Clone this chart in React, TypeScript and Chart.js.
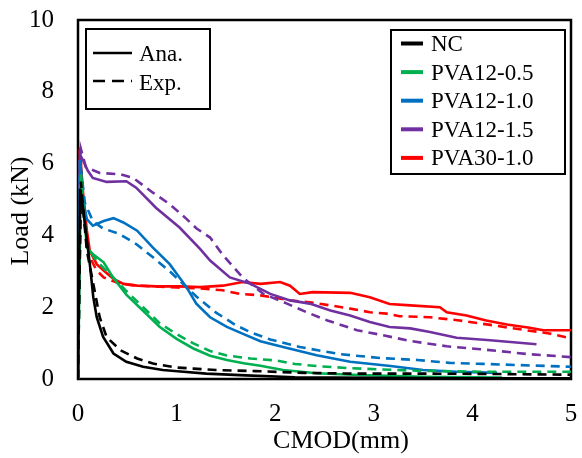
import React, { useEffect, useRef } from "react";
import { Chart, registerables } from "chart.js";

Chart.register(...registerables);

// ---------- data (CMOD in mm, Load in kN) ----------
const NC_ANA_X = [0, 0.02, 0.05, 0.08, 0.12, 0.155, 0.19, 0.255, 0.36, 0.49, 0.66, 0.86, 1.07, 1.3, 1.7, 2.2, 3.0, 4.0, 5.0];
const NC_ANA_Y = [0, 5.3, 4.8, 4.1, 3.2, 2.28, 1.72, 1.17, 0.71, 0.48, 0.34, 0.25, 0.2, 0.15, 0.1, 0.05, 0.03, 0.02, 0.02];
const NC_EXP_X = [0, 0.03, 0.06, 0.09, 0.155, 0.22, 0.29, 0.43, 0.6, 0.76, 1.0, 1.17, 1.4, 1.8, 2.3, 2.8, 3.5, 4.2, 5.0];
const NC_EXP_Y = [0, 5.5, 4.5, 3.57, 2.65, 1.72, 1.17, 0.8, 0.57, 0.43, 0.32, 0.29, 0.25, 0.22, 0.17, 0.15, 0.15, 0.14, 0.12];

const P05_ANA_X = [0, 0.03, 0.06, 0.09, 0.15, 0.26, 0.35, 0.49, 0.66, 0.83, 1.0, 1.17, 1.34, 1.51, 1.68, 1.85, 2.08, 2.42, 2.85, 3.5, 4.3];
const P05_ANA_Y = [0, 5.7, 4.6, 3.66, 3.48, 3.25, 2.85, 2.35, 1.9, 1.45, 1.12, 0.85, 0.65, 0.53, 0.44, 0.37, 0.25, 0.16, 0.11, 0.06, 0.04];
const P05_EXP_X = [0, 0.03, 0.09, 0.2, 0.35, 0.49, 0.66, 0.83, 1.0, 1.17, 1.34, 1.5, 1.75, 2.0, 2.2, 2.42, 2.76, 3.44, 4.11, 5.0];
const P05_EXP_Y = [0, 5.5, 3.7, 3.25, 2.85, 2.45, 2.0, 1.55, 1.25, 0.99, 0.78, 0.66, 0.57, 0.52, 0.42, 0.36, 0.3, 0.23, 0.2, 0.2];

const P10_ANA_X = [0, 0.02, 0.05, 0.09, 0.15, 0.26, 0.36, 0.46, 0.6, 0.76, 0.93, 1.1, 1.2, 1.34, 1.51, 1.68, 1.85, 2.08, 2.42, 2.76, 3.17, 3.5, 3.84, 4.25];
const P10_ANA_Y = [0, 6.1, 5.0, 4.45, 4.27, 4.4, 4.48, 4.36, 4.13, 3.66, 3.2, 2.56, 2.1, 1.72, 1.45, 1.25, 1.05, 0.89, 0.66, 0.48, 0.36, 0.25, 0.2, 0.17];
const P10_EXP_X = [0, 0.02, 0.07, 0.15, 0.25, 0.42, 0.59, 0.76, 0.93, 1.03, 1.2, 1.4, 1.6, 1.75, 1.95, 2.25, 2.66, 3.09, 3.44, 3.77, 4.11, 4.45, 5.0];
const P10_EXP_Y = [0, 6.1, 4.9, 4.4, 4.2, 4.04, 3.76, 3.39, 3.0, 2.74, 2.3, 1.85, 1.5, 1.3, 1.1, 0.89, 0.69, 0.58, 0.53, 0.45, 0.42, 0.39, 0.34];

const P15_ANA_X = [0, 0.02, 0.05, 0.1, 0.15, 0.29, 0.49, 0.59, 0.79, 1.03, 1.24, 1.34, 1.54, 1.75, 1.95, 2.15, 2.35, 2.56, 2.76, 2.96, 3.16, 3.37, 3.57, 3.84, 4.08, 4.18, 4.65];
const P15_ANA_Y = [0, 6.25, 6.1, 5.8, 5.6, 5.49, 5.51, 5.33, 4.77, 4.22, 3.62, 3.3, 2.83, 2.65, 2.37, 2.19, 2.1, 1.91, 1.77, 1.59, 1.45, 1.41, 1.31, 1.15, 1.1, 1.08, 0.97];
const P15_EXP_X = [0, 0.03, 0.08, 0.22, 0.43, 0.56, 0.76, 0.93, 1.1, 1.2, 1.34, 1.47, 1.67, 1.88, 2.12, 2.32, 2.53, 2.83, 3.09, 3.37, 3.74, 4.08, 4.58, 5.0];
const P15_EXP_Y = [0, 6.4, 5.9, 5.74, 5.7, 5.6, 5.19, 4.87, 4.46, 4.2, 3.94, 3.45, 2.83, 2.37, 2.1, 1.86, 1.63, 1.36, 1.22, 1.06, 0.91, 0.83, 0.69, 0.61];

const P30_ANA_X = [0, 0.02, 0.055, 0.09, 0.12, 0.19, 0.26, 0.36, 0.46, 0.6, 0.8, 1.03, 1.24, 1.47, 1.67, 1.85, 2.05, 2.15, 2.25, 2.38, 2.76, 2.96, 3.16, 3.37, 3.67, 3.74, 3.94, 4.14, 4.35, 4.58, 4.72, 5.0];
const P30_ANA_Y = [0, 6.34, 5.05, 4.13, 3.57, 3.2, 3.02, 2.79, 2.65, 2.6, 2.58, 2.58, 2.56, 2.6, 2.7, 2.65, 2.7, 2.6, 2.37, 2.42, 2.4, 2.28, 2.09, 2.05, 2.0, 1.86, 1.77, 1.63, 1.52, 1.43, 1.36, 1.36];
const P30_EXP_X = [0, 0.02, 0.06, 0.12, 0.19, 0.26, 0.43, 0.6, 1.0, 1.24, 1.47, 1.64, 1.85, 2.15, 2.35, 2.56, 2.76, 2.96, 3.13, 3.26, 3.57, 3.87, 4.2, 4.54, 4.78, 5.0];
const P30_EXP_Y = [0, 6.45, 4.6, 3.39, 3.02, 2.83, 2.65, 2.6, 2.55, 2.52, 2.47, 2.37, 2.33, 2.19, 2.14, 2.05, 1.96, 1.86, 1.82, 1.75, 1.72, 1.63, 1.5, 1.36, 1.27, 1.13];

const SERIES_NAMES = ["NC", "PVA12-0.5", "PVA12-1.0", "PVA12-1.5", "PVA30-1.0"];
const SERIES_COLORS = ["#000000", "#00B050", "#0070C0", "#7030A0", "#FF0000"];
const STYLE_NAMES = ["Ana.", "Exp."];
const X_TICKS = [0, 1, 2, 3, 4, 5];
const Y_TICKS = [0, 2, 4, 6, 8, 10];
const X_TITLE = "CMOD(mm)";
const Y_TITLE = "Load (kN)";

const SERIF = "'Liberation Serif', 'Times New Roman', serif";

function pts(xs: number[], ys: number[]) {
  return xs.map((x, i) => ({ x, y: ys[i] }));
}

const frameAndLegends = {
  id: "frameAndLegends",
  beforeDatasetsDraw(chart: any) {
    const { ctx, chartArea } = chart;
    ctx.save();
    ctx.strokeStyle = "#000";
    ctx.lineWidth = 2.5;
    ctx.strokeRect(chartArea.left, chartArea.top, chartArea.right - chartArea.left, chartArea.bottom - chartArea.top);
    ctx.restore();
  },
  afterDraw(chart: any) {
    const { ctx } = chart;
    ctx.save();
    // axis titles
    ctx.fillStyle = "#000";
    ctx.font = `26px ${SERIF}`;
    ctx.textAlign = "center";
    ctx.textBaseline = "middle";
    ctx.fillText(X_TITLE, 341, 441);
    ctx.save();
    ctx.translate(21, 211);
    ctx.rotate(-Math.PI / 2);
    ctx.fillText(Y_TITLE, 0, 0);
    ctx.restore();

    // legend 1: line styles
    ctx.fillStyle = "#fff";
    ctx.fillRect(86, 29, 124, 80);
    ctx.strokeStyle = "#000";
    ctx.lineWidth = 2;
    ctx.strokeRect(86, 29, 124, 80);
    ctx.lineWidth = 2.5;
    ctx.beginPath();
    ctx.moveTo(93, 53);
    ctx.lineTo(132, 53);
    ctx.stroke();
    ctx.setLineDash([12, 7]);
    ctx.beginPath();
    ctx.moveTo(93, 81);
    ctx.lineTo(132, 81);
    ctx.stroke();
    ctx.setLineDash([]);
    ctx.fillStyle = "#000";
    ctx.font = `23px ${SERIF}`;
    ctx.textAlign = "left";
    ctx.textBaseline = "middle";
    ctx.fillText(STYLE_NAMES[0], 139, 55);
    ctx.fillText(STYLE_NAMES[1], 139, 84);

    // legend 2: series
    ctx.fillStyle = "#fff";
    ctx.fillRect(391, 30, 174, 144);
    ctx.strokeStyle = "#000";
    ctx.lineWidth = 2;
    ctx.strokeRect(391, 30, 174, 144);
    SERIES_NAMES.forEach((name, i) => {
      const y = 43.5 + i * 28.6;
      ctx.strokeStyle = SERIES_COLORS[i];
      ctx.lineWidth = 4;
      ctx.beginPath();
      ctx.moveTo(401, y);
      ctx.lineTo(423, y);
      ctx.stroke();
      ctx.fillStyle = "#000";
      ctx.fillText(name, 431, y + 1.5);
    });
    ctx.restore();
  },
};

export default function App() {
  const ref = useRef<HTMLCanvasElement | null>(null);
  useEffect(() => {
    if (!ref.current) return;
    const ana = [
      pts(NC_ANA_X, NC_ANA_Y),
      pts(P05_ANA_X, P05_ANA_Y),
      pts(P10_ANA_X, P10_ANA_Y),
      pts(P15_ANA_X, P15_ANA_Y),
      pts(P30_ANA_X, P30_ANA_Y),
    ];
    const exp = [
      pts(NC_EXP_X, NC_EXP_Y),
      pts(P05_EXP_X, P05_EXP_Y),
      pts(P10_EXP_X, P10_EXP_Y),
      pts(P15_EXP_X, P15_EXP_Y),
      pts(P30_EXP_X, P30_EXP_Y),
    ];
    const datasets: any[] = [];
    SERIES_NAMES.forEach((name, i) => {
      datasets.push({
        label: `${name} ${STYLE_NAMES[1]}`,
        data: exp[i],
        borderColor: SERIES_COLORS[i],
        borderWidth: 2.6,
        borderDash: [9, 6],
        pointRadius: 0,
        tension: 0,
        fill: false,
      });
      datasets.push({
        label: `${name} ${STYLE_NAMES[0]}`,
        data: ana[i],
        borderColor: SERIES_COLORS[i],
        borderWidth: 2.6,
        pointRadius: 0,
        tension: 0,
        fill: false,
      });
    });
    const chart = new Chart(ref.current, {
      type: "line",
      data: { datasets },
      plugins: [frameAndLegends],
      options: {
        responsive: false,
        animation: false,
        layout: { padding: { top: 20, right: 11, left: 0, bottom: 0 } },
        plugins: { legend: { display: false }, tooltip: { enabled: false } },
        scales: {
          x: {
            type: "linear",
            min: 0,
            max: 5,
            afterFit: (s: any) => {
              s.height = 79;
              s.paddingLeft = 0;
              s.paddingRight = 0;
              s.paddingTop = 0;
              s.paddingBottom = 0;
            },
            afterBuildTicks: (s: any) => {
              s.ticks = X_TICKS.map((v) => ({ value: v }));
            },
            grid: { display: false, drawTicks: false },
            border: { display: false },
            ticks: {
              padding: 20,
              color: "#000",
              font: { family: SERIF, size: 25 },
            },
            title: { display: false },
          },
          y: {
            type: "linear",
            min: 0,
            max: 10,
            afterFit: (s: any) => {
              s.width = 78;
              s.paddingLeft = 0;
              s.paddingRight = 0;
              s.paddingTop = 0;
              s.paddingBottom = 0;
            },
            afterBuildTicks: (s: any) => {
              s.ticks = Y_TICKS.map((v) => ({ value: v }));
            },
            grid: { display: false, drawTicks: false },
            border: { display: false },
            ticks: {
              padding: 24,
              color: "#000",
              font: { family: SERIF, size: 25 },
            },
            title: { display: false },
          },
        },
      },
    });
    return () => chart.destroy();
  }, []);
  return (
    <div style={{ position: "fixed", left: 0, top: 0, width: 582, height: 458, background: "#fff" }}>
      <canvas ref={ref} width={582} height={458} />
    </div>
  );
}
